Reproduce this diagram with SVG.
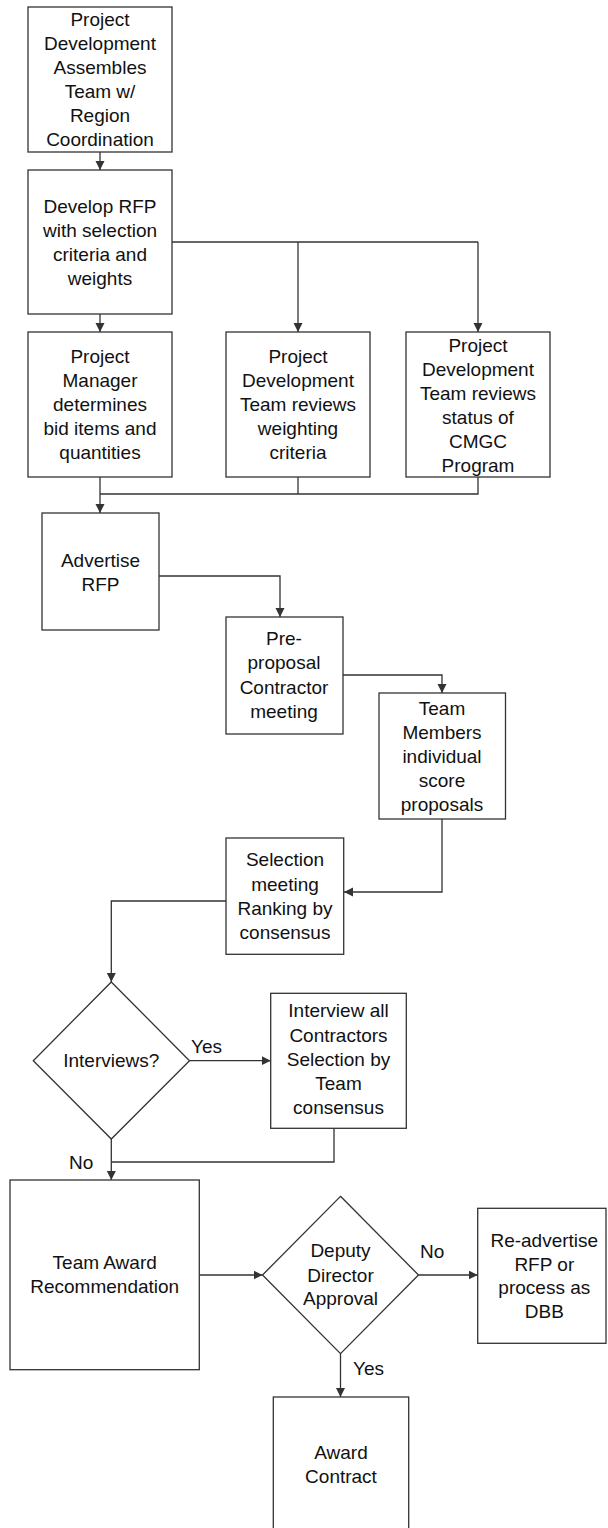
<svg xmlns="http://www.w3.org/2000/svg" width="608" height="1528" viewBox="0 0 608 1528">
  <style>
    .box { fill: #ffffff; stroke: #333333; stroke-width: 1.3; }
    .wire { fill: none; stroke: #333333; stroke-width: 1.3; }
    text { font-family: "Liberation Sans", Arial, Helvetica, sans-serif; font-size: 19px; fill: #111111; }
    .c { text-anchor: middle; }
  </style>
  <defs>
    <marker id="arrow" markerUnits="userSpaceOnUse" markerWidth="10" markerHeight="10" refX="9" refY="4.5" orient="auto">
      <path d="M0,0 L9,4.5 L0,9 z" fill="#333333"/>
    </marker>
  </defs>
  <rect width="608" height="1528" fill="#ffffff"/>

  <!-- connectors -->
  <g id="connectors">
    <path class="wire" d="M100,152 V170" marker-end="url(#arrow)"/>
    <path class="wire" d="M172,242 H478"/>
    <path class="wire" d="M100,314 V332" marker-end="url(#arrow)"/>
    <path class="wire" d="M298,242 V332" marker-end="url(#arrow)"/>
    <path class="wire" d="M478,242 V332" marker-end="url(#arrow)"/>
    <path class="wire" d="M298,477 V494"/>
    <path class="wire" d="M478,477 V494 H100"/>
    <path class="wire" d="M100,477 V513" marker-end="url(#arrow)"/>
    <path class="wire" d="M159,576 H280 V617" marker-end="url(#arrow)"/>
    <path class="wire" d="M343,675 H442 V693" marker-end="url(#arrow)"/>
    <path class="wire" d="M442,819 V892 H344" marker-end="url(#arrow)"/>
    <path class="wire" d="M226,901 H111.3 V982" marker-end="url(#arrow)"/>
    <path class="wire" d="M189.5,1060.7 H270.7" marker-end="url(#arrow)"/>
    <path class="wire" d="M111.3,1139 V1180" marker-end="url(#arrow)"/>
    <path class="wire" d="M334,1128 V1162 H111.3"/>
    <path class="wire" d="M199.3,1275 H262.5" marker-end="url(#arrow)"/>
    <path class="wire" d="M418.5,1275 H477.7" marker-end="url(#arrow)"/>
    <path class="wire" d="M340.5,1353.7 V1397" marker-end="url(#arrow)"/>
    <text x="191" y="1053">Yes</text>
    <text x="69" y="1169">No</text>
    <text x="420" y="1258">No</text>
    <text x="353" y="1375">Yes</text>
  </g>

  <g id="assemble-team">
    <rect class="box" x="28" y="7" width="144" height="145"/>
    <text class="c" x="100" y="26">Project</text>
    <text class="c" x="100" y="50">Development</text>
    <text class="c" x="100" y="74">Assembles</text>
    <text class="c" x="100" y="98">Team w/</text>
    <text class="c" x="100" y="122">Region</text>
    <text class="c" x="100" y="146">Coordination</text>
  </g>

  <g id="develop-rfp">
    <rect class="box" x="28" y="170" width="144" height="144"/>
    <text class="c" x="100" y="213">Develop RFP</text>
    <text class="c" x="100" y="237">with selection</text>
    <text class="c" x="100" y="261">criteria and</text>
    <text class="c" x="100" y="285">weights</text>
  </g>

  <g id="bid-items">
    <rect class="box" x="28" y="332" width="144" height="145"/>
    <text class="c" x="100" y="363">Project</text>
    <text class="c" x="100" y="387">Manager</text>
    <text class="c" x="100" y="411">determines</text>
    <text class="c" x="100" y="435">bid items and</text>
    <text class="c" x="100" y="459">quantities</text>
  </g>

  <g id="weighting-review">
    <rect class="box" x="226" y="332" width="144" height="145"/>
    <text class="c" x="298" y="363">Project</text>
    <text class="c" x="298" y="387">Development</text>
    <text class="c" x="298" y="411">Team reviews</text>
    <text class="c" x="298" y="435">weighting</text>
    <text class="c" x="298" y="459">criteria</text>
  </g>

  <g id="cmgc-status">
    <rect class="box" x="406" y="332" width="144" height="145"/>
    <text class="c" x="478" y="352">Project</text>
    <text class="c" x="478" y="376">Development</text>
    <text class="c" x="478" y="400">Team reviews</text>
    <text class="c" x="478" y="424">status of</text>
    <text class="c" x="478" y="448">CMGC</text>
    <text class="c" x="478" y="472">Program</text>
  </g>

  <g id="advertise-rfp">
    <rect class="box" x="42" y="513" width="117" height="117"/>
    <text class="c" x="100.5" y="567">Advertise</text>
    <text class="c" x="100.5" y="591">RFP</text>
  </g>

  <g id="pre-proposal">
    <rect class="box" x="226" y="617" width="117" height="117"/>
    <text class="c" x="284" y="645">Pre-</text>
    <text class="c" x="284" y="669.3">proposal</text>
    <text class="c" x="284" y="693.7">Contractor</text>
    <text class="c" x="284" y="718">meeting</text>
  </g>

  <g id="score-proposals">
    <rect class="box" x="379" y="693" width="126.5" height="126"/>
    <text class="c" x="442" y="715">Team</text>
    <text class="c" x="442" y="739">Members</text>
    <text class="c" x="442" y="763">individual</text>
    <text class="c" x="442" y="787">score</text>
    <text class="c" x="442" y="811">proposals</text>
  </g>

  <g id="selection-meeting">
    <rect class="box" x="226" y="838" width="117.7" height="116.3"/>
    <text class="c" x="285" y="866">Selection</text>
    <text class="c" x="285" y="891">meeting</text>
    <text class="c" x="285" y="915">Ranking by</text>
    <text class="c" x="285" y="939">consensus</text>
  </g>

  <g id="interviews-decision">
    <path class="box" d="M111.3,982 L189.5,1060.7 L111.3,1139 L33.3,1060.7 Z"/>
    <text class="c" x="111.3" y="1067">Interviews?</text>
  </g>

  <g id="interview-contractors">
    <rect class="box" x="270.7" y="993.3" width="135.6" height="135"/>
    <text class="c" x="338.5" y="1017.3">Interview all</text>
    <text class="c" x="338.5" y="1041.6">Contractors</text>
    <text class="c" x="338.5" y="1066">Selection by</text>
    <text class="c" x="338.5" y="1090">Team</text>
    <text class="c" x="338.5" y="1113.5">consensus</text>
  </g>

  <g id="award-recommendation">
    <rect class="box" x="10" y="1180" width="189.3" height="189.7"/>
    <text class="c" x="104.7" y="1269">Team Award</text>
    <text class="c" x="104.7" y="1293">Recommendation</text>
  </g>

  <g id="director-approval">
    <path class="box" d="M340.5,1196.3 L418.5,1275 L340.5,1353.7 L262.5,1275 Z"/>
    <text class="c" x="340.5" y="1257.3">Deputy</text>
    <text class="c" x="340.5" y="1281.7">Director</text>
    <text class="c" x="340.5" y="1305">Approval</text>
  </g>

  <g id="re-advertise">
    <rect class="box" x="477.7" y="1208.3" width="128.3" height="135"/>
    <text class="c" x="544.3" y="1246.7">Re-advertise</text>
    <text class="c" x="544.3" y="1270.7">RFP or</text>
    <text class="c" x="544.3" y="1294.3">process as</text>
    <text class="c" x="544.3" y="1318.3">DBB</text>
  </g>

  <g id="award-contract">
    <rect class="box" x="273.3" y="1397" width="135.4" height="150"/>
    <text class="c" x="341" y="1459.3">Award</text>
    <text class="c" x="341" y="1483.3">Contract</text>
  </g>
</svg>
